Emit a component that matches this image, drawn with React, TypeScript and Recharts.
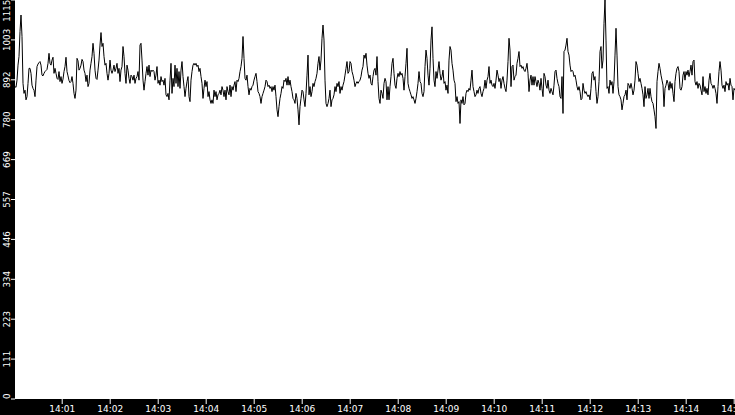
import React from 'react';
import { LineChart, Line, XAxis, YAxis, CartesianGrid } from 'recharts';

// sampling: one reading every 1.25 s starting at 14:00:01
const START_SEC = 1;
const STEP_SEC = 1.25;

const values: number[] = [
  // block 1
  873, 871, 891, 933, 957, 1027, 1073, 1013, 882, 854, 863, 836, 845, 882, 924, 924, 910, 877, 868, 863,
  845, 891, 929, 936, 940, 943, 933, 905, 903, 910, 915, 918, 921, 938, 966, 938, 933, 947, 955, 910,
  924, 910, 896, 893, 915, 887, 901, 882, 894, 915, 929, 955, 915, 903, 890, 884, 887, 901, 882, 854,
  840, 863, 952, 945, 919, 924, 933, 949, 943, 919, 910, 887, 905, 873, 882, 919, 938, 957, 994, 966,
  919, 896, 893, 919, 947, 989, 1024, 985, 994, 957, 933, 938, 910, 891, 910, 947, 919, 910, 919, 933,
  915, 924, 938, 910, 924, 887, 919, 929, 985, 957, 910, 882, 933, 919, 896, 882, 905, 901, 891, 905,
  882, 896,
  // block 2
  901, 915, 891, 989, 994, 947, 891, 863, 887, 910, 929, 905, 933, 901, 919, 915, 919, 915, 891, 905,
  929, 882, 891, 877, 901, 887, 891, 877, 896, 850, 845, 854, 836, 891, 938, 854, 896, 873, 933, 882,
  924, 873, 915, 868, 919, 943, 901, 873, 845, 868, 887, 901, 845, 831, 891, 915, 933, 938, 933, 938,
  929, 933, 915, 924, 901, 882, 840, 868, 891, 873, 887, 845, 859, 836, 826, 836, 826, 863, 845, 859,
  836, 850, 854, 863, 850, 873, 863, 845, 863, 836, 873, 859, 850, 877, 845, 873, 863, 877, 887, 859,
  891, 887, 896, 915, 929, 952, 1013, 952, 896, 891, 905, 873, 850, 868, 863, 873, 877, 891, 901, 910,
  887, 859,
  // block 3
  854, 845, 826, 845, 854, 863, 873, 891, 887, 873, 877, 868, 873, 859, 873, 863, 877, 845, 808, 789,
  817, 840, 854, 873, 868, 891, 887, 896, 877, 901, 877, 891, 873, 859, 840, 836, 826, 854, 840, 808,
  766, 817, 840, 863, 859, 836, 817, 854, 905, 961, 850, 873, 845, 859, 882, 873, 887, 896, 910, 938,
  957, 919, 947, 1008, 1045, 1003, 891, 826, 817, 826, 840, 863, 817, 836, 840, 850, 873, 859, 882, 873,
  887, 854, 873, 863, 877, 887, 905, 924, 943, 910, 915, 943, 938, 915, 905, 891, 873, 882, 887, 882,
  887, 891, 901, 919, 929, 961, 952, 966, 933, 910, 896, 905, 882, 877, 901, 919, 924, 905, 957, 887,
  840, 826,
  // block 4
  863, 854, 840, 882, 896, 887, 836, 873, 836, 873, 901, 938, 952, 910, 877, 868, 896, 910, 901, 915,
  905, 910, 896, 863, 901, 938, 980, 882, 868, 859, 850, 840, 845, 836, 826, 840, 859, 882, 915, 887,
  882, 854, 845, 859, 929, 975, 952, 905, 877, 924, 1003, 1040, 952, 891, 873, 915, 896, 919, 943, 910,
  891, 901, 919, 882, 887, 863, 877, 854, 947, 985, 975, 938, 919, 891, 882, 831, 845, 826, 831, 770,
  836, 826, 845, 822, 826, 854, 863, 859, 868, 863, 891, 919, 873, 859, 845, 850, 863, 854, 868, 873,
  854, 845, 859, 868, 891, 868, 891, 901, 929, 882, 891, 877, 873, 882, 868, 891, 919, 905, 887, 896,
  868, 891,
  // block 5
  901, 882, 868, 859, 891, 943, 1008, 975, 873, 929, 933, 891, 901, 905, 938, 952, 971, 929, 933, 924,
  929, 919, 915, 924, 938, 910, 859, 891, 905, 877, 901, 877, 901, 887, 873, 891, 882, 863, 896, 868,
  845, 910, 901, 877, 868, 891, 863, 854, 868, 859, 850, 877, 915, 919, 896, 882, 873, 845, 840, 901,
  798, 971, 975, 989, 1008, 971, 961, 933, 915, 919, 915, 901, 905, 891, 873, 863, 873, 859, 836, 840,
  882, 863, 854, 859, 850, 845, 850, 836, 868, 910, 915, 891, 901, 859, 826, 845, 887, 971, 985, 924,
  947, 1050, 1115, 1003, 868, 873, 854, 891, 877, 887, 854, 887, 961, 1036, 961, 873, 850, 845, 836, 808,
  826, 845,
  // block 6
  850, 863, 836, 882, 877, 868, 882, 868, 850, 863, 891, 943, 933, 910, 887, 896, 882, 868, 850, 817,
  873, 840, 850, 868, 840, 868, 845, 831, 826, 808, 789, 756, 887, 915, 938, 924, 905, 891, 877, 817,
  868, 877, 891, 882, 863, 887, 868, 882, 854, 831, 887, 910, 924, 929, 915, 868, 863, 873, 905, 915,
  891, 915, 905, 919, 901, 915, 933, 905, 943, 947, 887, 877, 887, 868, 882, 877, 863, 850, 901, 859,
  873, 854, 868, 850, 891, 910, 882, 877, 868, 877, 868, 854, 826, 873, 915, 943, 919, 877, 868, 877,
  859, 887, 877, 882, 863, 896, 877, 873, 836, 868, 863,
];

const yTicks: number[] = [0, 111.5, 223, 334.5, 446, 557.5, 669, 780.5, 892, 1003.5, 1115];
const xTicks: number[] = [60, 120, 180, 240, 300, 360, 420, 480, 540, 600, 660, 720, 780, 840, 900];

const data = values.map((v, i) => ({ t: START_SEC + i * STEP_SEC, v }));

const fmtTime = (s: number) => {
  const m = Math.round(s / 60);
  return `14:${String(m).padStart(2, '0')}`;
};

const PLOT_BOTTOM = 399;

const YTick = (props: any) => {
  const { y, payload } = props;
  const label = String(Math.floor(payload.value));
  const len = label.length * 5.4;
  let cy = y;
  cy = Math.max(len / 2, Math.min(PLOT_BOTTOM - len / 2, cy));
  return (
    <text
      x={10}
      y={cy}
      transform={`rotate(-90 10 ${cy})`}
      textAnchor="middle"
      fill="#fff"
      fontSize={8.7}
      fontFamily="DejaVu Sans"
    >
      {label}
    </text>
  );
};

export default function App() {
  return (
    <div style={{ position: 'absolute', left: 0, top: 0, width: 735, height: 415, background: '#000' }}>
      <LineChart width={735} height={415} data={data} margin={{ top: 0, right: 0, bottom: 0, left: 0 }}>
        <CartesianGrid fill="#fff" stroke="transparent" />
        <XAxis
          type="number"
          dataKey="t"
          domain={[1, 901]}
          ticks={xTicks}
          interval={0}
          tickFormatter={fmtTime}
          height={16}
          tickSize={5}
          tickMargin={2}
          axisLine={false}
          tickLine={{ stroke: '#fff' }}
          tick={{ fill: '#fff', fontSize: 9, fontFamily: 'DejaVu Sans' }}
        />
        <YAxis
          type="number"
          domain={[0, 1115]}
          ticks={yTicks}
          interval={0}
          width={15}
          tickSize={4}
          axisLine={false}
          tickLine={{ stroke: '#fff' }}
          tick={<YTick />}
        />
        <Line
          type="linear"
          dataKey="v"
          stroke="#000"
          strokeWidth={1}
          dot={false}
          isAnimationActive={false}
        />
      </LineChart>
    </div>
  );
}
